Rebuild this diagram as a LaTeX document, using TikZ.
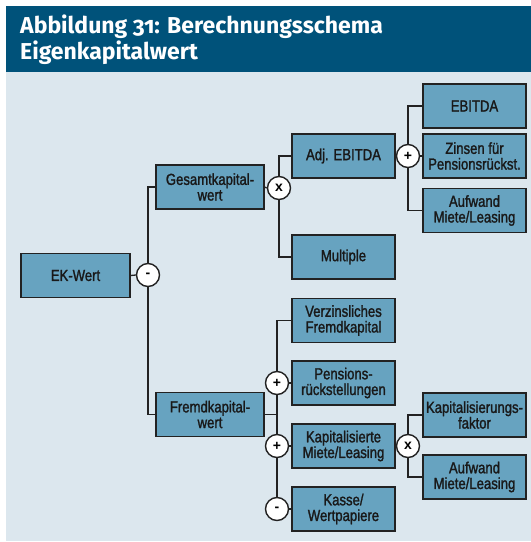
\documentclass[tikz,border=0pt]{standalone}
\usepackage{fontspec}
\newfontfamily\boxfont[FakeStretch=0.82,FakeBold=1.5]{Liberation Sans}
\newfontfamily\opfont{Liberation Sans}
\newfontfamily\titlefont[Numbers=OldStyle]{Fira Sans}
\definecolor{hdr}{HTML}{00527A}
\definecolor{bgl}{HTML}{DCE7EE}
\definecolor{boxc}{HTML}{67A3C0}
\definecolor{linec}{HTML}{222222}
\tikzset{
  bx/.style={draw=linec, line width=1.3pt, fill=boxc, minimum width=#1, minimum height=44pt,
    inner sep=0pt, align=center, font=\boxfont\fontsize{16}{15.7}\selectfont, text=black!90},
  bx/.default=103pt,
  op/.style={circle, draw=linec, line width=1.4pt, fill=white, minimum size=23pt, inner sep=0pt,
    font=\opfont\fontsize{14}{14}\selectfont\bfseries},
  con/.style={draw=linec, line width=1.3pt},
  ttl/.style={anchor=base west, text=white, font=\titlefont\fontsize{23}{26}\selectfont\bfseries, inner sep=0pt}
}
\begin{document}
\begin{tikzpicture}[x=1pt,y=-1pt]
\useasboundingbox (0,0) rectangle (531,542);
\fill[white] (0,0) rectangle (531,542);
\fill[hdr] (6,6) rectangle (531,72);
\fill[bgl] (6,72) rectangle (531,541);
\node[ttl] (t1) at (20,33) {Abbildung 31: Berechnungsschema};
\node[ttl] (t2) at (20,59.5) {Eigenkapitalwert};

% boxes
\node[bx=109pt] (ek) at (75.5,275.5) {EK-Wert};
\node[bx=108pt] (gk) at (210,187) {Gesamtkapital-\\wert};
\node[bx=108pt] (fk) at (210,414.5) {Fremdkapital-\\wert};
\node[bx] (adj) at (343.5,156) {Adj. EBITDA};
\node[bx] (mult) at (343.5,257) {Multiple};
\node[bx] (verz) at (343.5,320.5) {Verzinsliches\\Fremdkapital};
\node[bx] (pens) at (343.5,383) {Pensions-\\rückstellungen};
\node[bx] (kap) at (343.5,446) {Kapitalisierte\\Miete/Leasing};
\node[bx] (kasse) at (343.5,509) {Kasse/\\Wertpapiere};
\node[bx] (ebitda) at (474.5,106) {EBITDA};
\node[bx] (zins) at (474.5,156) {Zinsen für\\Pensionsrückst.};
\node[bx] (auf1) at (474.5,210.5) {Aufwand\\Miete/Leasing};
\node[bx] (kf) at (474.5,415) {Kapitalisierungs-\\faktor};
\node[bx] (auf2) at (474.5,477) {Aufwand\\Miete/Leasing};

% operators
\node[op] (o1) at (148,275) {-};
\node[op] (o2) at (279,188) {x};
\node[op] (o3) at (408,156) {+};
\node[op] (o4) at (277,383) {+};
\node[op] (o5) at (277,446) {+};
\node[op] (o6) at (277,509) {-};
\node[op] (o7) at (408,446) {x};

% connectors
\path[con] (ek.east) -- (o1.west);
\path[con] (gk.west) -| (o1.north);
\path[con] (fk.west) -| (o1.south);
\path[con] (gk.east) -- (o2.west);
\path[con] (adj.west) -| (o2.north);
\path[con] (mult.west) -| (o2.south);
\path[con] (adj.east) -- (o3.west);
\path[con] (ebitda.west) -| (o3.north);
\path[con] (zins.west) -- (o3.east);
\path[con] (auf1.west) -| (o3.south);
\path[con] (verz.west) -| (o4.north);
\path[con] (pens.west) -- (o4.east);
\path[con] (o4.south) -- (o5.north);
\path[con] (fk.east) -- (fk.east -| o4);
\path[con] (kap.west) -- (o5.east);
\path[con] (o5.south) -- (o6.north);
\path[con] (kasse.west) -- (o6.east);
\path[con] (kap.east) -- (o7.west);
\path[con] (kf.west) -| (o7.north);
\path[con] (auf2.west) -| (o7.south);
\end{tikzpicture}
\end{document}
